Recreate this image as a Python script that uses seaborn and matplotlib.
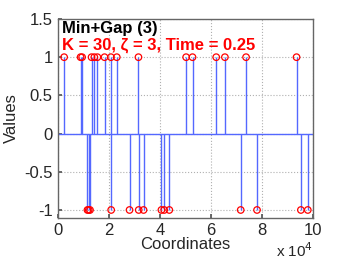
import matplotlib
matplotlib.use("Agg")
import matplotlib.pyplot as plt
import numpy as np
import pandas as pd
import seaborn as sns

# nonzero positions (actual coordinates) and their values
pos_coords = [2350, 8800, 9400, 13100, 14200, 15400, 18200, 20700, 23000,
              31500, 50200, 52700, 62000, 65400, 73700, 93500]
neg_coords = [11500, 12000, 12500, 20800, 28000, 31600, 33500, 40500,
              41600, 43600, 71600, 78000, 95200, 97900]
title_line1 = "Min+Gap (3)"
title_line2 = "K = 30, \u03b6 = 3, Time = 0.25"

df = pd.DataFrame({
    "coord": pos_coords + neg_coords,
    "value": [1] * len(pos_coords) + [-1] * len(neg_coords),
})

sns.set_theme(style="ticks")
plt.rcParams["font.family"] = ["Liberation Sans", "DejaVu Sans"]

fig = plt.figure(figsize=(3.46, 2.6), dpi=100)
ax = fig.add_axes([0.168, 0.163, 0.737, 0.764])

stem_c = "#5468ff"
ax.axhline(0, color=stem_c, lw=1.0, zorder=2)
ax.vlines(df["coord"], 0, df["value"], color=stem_c, lw=1.0, zorder=2)
sns.scatterplot(data=df, x="coord", y="value", ax=ax, marker="o", s=22,
                facecolor="none", edgecolor="red", linewidth=0.9, zorder=3,
                legend=False)

ax.set_xlim(0, 100000)
ax.set_ylim(-1.1, 1.5)
ax.set_xticks(np.arange(0, 100001, 20000))
ax.set_xticklabels([f"{int(t / 10000)}" for t in np.arange(0, 100001, 20000)])
ax.set_yticks([-1, -0.5, 0, 0.5, 1, 1.5])
ax.set_yticklabels(["-1", "-0.5", "0", "0.5", "1", "1.5"])
ax.grid(True, linestyle=":", color="#b0b0b0", lw=0.8)
ax.tick_params(direction="in", labelsize=12, length=3, color="#555555",
               pad=4)
for s in ax.spines.values():
    s.set_color("#666666")
    s.set_linewidth(1.0)

ax.set_xlabel("Coordinates", fontsize=12, labelpad=-1)
ax.set_ylabel("Values", fontsize=12, labelpad=4)
ax.text(1.0, -0.198, "x 10$^4$", transform=ax.transAxes, ha="right",
        va="baseline", fontsize=11)

ax.text(0.015, 0.99, title_line1, transform=ax.transAxes, ha="left",
        va="top", fontsize=12, fontweight="bold", color="black")
ax.text(0.015, 0.905, title_line2, transform=ax.transAxes, ha="left",
        va="top", fontsize=12, fontweight="bold", color="red")

fig.savefig("out.png", dpi=100)
